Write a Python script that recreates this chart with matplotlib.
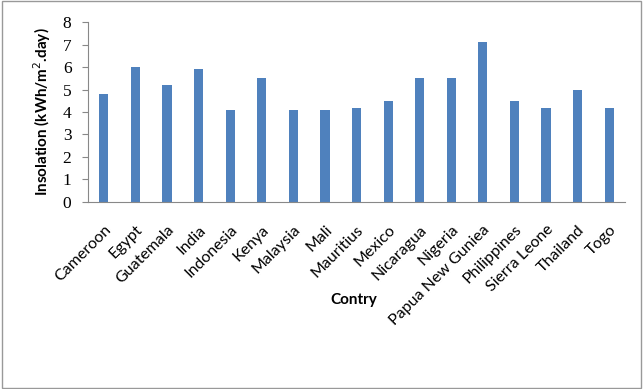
import matplotlib.pyplot as plt
import numpy as np

countries = ["Cameroon", "Egypt", "Guatemala", "India", "Indonesia", "Kenya",
             "Malaysia", "Mali", "Mauritius", "Mexico", "Nicaragua", "Nigeria",
             "Papua New Guniea", "Philippines", "Sierra Leone", "Thailand", "Togo"]
insolation = [4.8, 6.0, 5.2, 5.9, 4.1, 5.5, 4.1, 4.1, 4.2, 4.5, 5.5, 5.5,
              7.1, 4.5, 4.2, 5.0, 4.2]
yticks = [0, 1, 2, 3, 4, 5, 6, 7, 8]

fig = plt.figure(figsize=(6.43, 3.89), dpi=100)
ax = fig.add_axes([0.137, 0.481, 0.835, 0.462])

x = np.arange(len(countries))
ax.bar(x, insolation, width=0.29, color="#4F81BD")

ax.set_xlim(-0.5, len(countries) - 0.5)
ax.set_ylim(0, 8)
ax.set_yticks(yticks)
ax.set_yticklabels([str(t) for t in yticks], fontfamily="Liberation Serif", fontsize=12.5)
ax.set_xticks(x)
ax.set_xticklabels(countries, rotation=45, ha="right", rotation_mode="anchor",
                   fontfamily="Lato", fontsize=11.5)
ax.tick_params(axis="x", length=0, pad=15)
ax.tick_params(axis="y", length=4, color="#888888", pad=8)

for s in ["top", "right"]:
    ax.spines[s].set_visible(False)
for s in ["left", "bottom"]:
    ax.spines[s].set_color("#888888")

ax.set_ylabel("Insolation (kWh/m$^2$.day)", fontfamily="Lato", fontweight="bold",
              fontsize=11, labelpad=7)
fig.text(0.55, 0.228, "Contry", ha="center", va="center", fontfamily="Lato",
         fontweight="bold", fontsize=11)

# outer frame
fig.patches.append(plt.Rectangle((0.003, 0.003), 0.994, 0.994, transform=fig.transFigure,
                                 fill=False, edgecolor="#999999", linewidth=1))

fig.savefig("out.png", dpi=100)
